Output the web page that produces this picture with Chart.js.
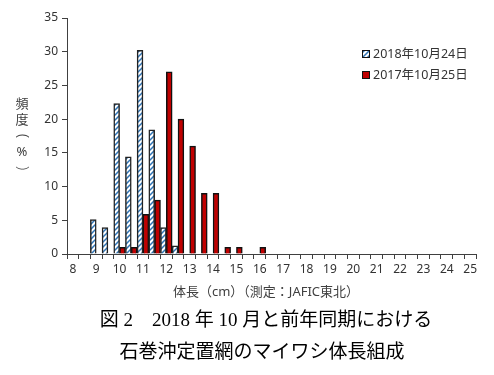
<!DOCTYPE html>
<html>
<head>
<meta charset="utf-8">
<script src="https://cdn.jsdelivr.net/npm/chart.js@4/dist/chart.umd.min.js"></script>
<style>
  body { margin: 0; background: #fff; }
  canvas { display: block; }
</style>
</head>
<body>
<canvas id="grafico" width="494" height="375"></canvas>
<script>
// 体長階級 (0.5cm刻み)
const categories = ['8', '8.5', '9', '9.5', '10', '10.5', '11', '11.5', '12', '12.5',
  '13', '13.5', '14', '14.5', '15', '15.5', '16', '16.5', '17', '17.5', '18', '18.5',
  '19', '19.5', '20', '20.5', '21', '21.5', '22', '22.5', '23', '23.5', '24', '24.5', '25'];

// 頻度 (%)
const freq2018 = [null, null, 5.1, 3.9, 22.3, 14.4, 30.2, 18.4, 3.9, 1.2];
const freq2017 = [null, null, null, null, 1.0, 1.0, 5.9, 8.0, 27.0, 20.0,
  16.0, 9.0, 9.0, 1.0, 1.0, null, 1.0];

const seriesLabels = ['2018年10月24日', '2017年10月25日'];
const yTitle = ['頻', '度', '(', '%', ')'];
const xTitle = '体長（cm）（測定：JAFIC東北）';
const caption = ['図 2　2018 年 10 月と前年同期における', '石巻沖定置網のマイワシ体長組成'];

const fonte = "'Noto Sans', 'Noto Sans CJK JP', sans-serif";
const canvas = document.getElementById('grafico');
const ctx = canvas.getContext('2d');

// 斜線ハッチング
function hachura() {
  const c = document.createElement('canvas');
  c.width = 5; c.height = 5;
  const g = c.getContext('2d');
  g.fillStyle = '#fff';
  g.fillRect(0, 0, 5, 5);
  g.strokeStyle = '#2f74b5';
  g.lineWidth = 1.5;
  g.beginPath();
  g.moveTo(-1, 6); g.lineTo(6, -1);
  g.moveTo(-6, 6); g.lineTo(1, -1);
  g.moveTo(4, 6); g.lineTo(11, -1);
  g.stroke();
  return ctx.createPattern(c, 'repeat');
}
const azul = hachura();

const textos = {
  id: 'textos',
  afterDraw(chart) {
    const c = chart.ctx;
    c.save();
    c.fillStyle = '#404040';
    c.textAlign = 'center';
    c.textBaseline = 'middle';
    c.font = "13px " + fonte;
    // 縦書きの軸タイトル (括弧は回転)
    yTitle.forEach((t, i) => {
      const y = 104 + i * 16;
      if (t === '(' || t === ')') {
        c.save();
        c.font = "300 15px " + fonte;
        c.translate(22, y);
        c.rotate(Math.PI / 2);
        c.fillText(t, 0, 0);
        c.restore();
      } else {
        c.fillText(t, 22, y);
      }
    });
    c.fillText(xTitle, 266, 292);

    // 凡例
    const cores = [azul, '#c00000'];
    c.textAlign = 'left';
    c.font = "12.5px " + fonte;
    seriesLabels.forEach((t, i) => {
      const y = 54 + i * 21;
      c.fillStyle = cores[i];
      c.fillRect(362, y - 4, 8, 8);
      c.strokeStyle = '#111';
      c.lineWidth = 1;
      c.strokeRect(362.5, y - 3.5, 7, 7);
      c.fillStyle = '#333';
      c.fillText(t, 373, y);
    });

    c.fillStyle = '#000';
    c.textAlign = 'center';
    c.font = "19px 'Liberation Serif', 'Noto Sans CJK JP', serif";
    c.fillText(caption[0], 266, 321);
    c.fillText(caption[1], 262, 353);
    c.restore();
  }
};

new Chart(canvas, {
  type: 'bar',
  data: {
    labels: categories,
    datasets: [
      {
        label: seriesLabels[0],
        data: freq2018,
        backgroundColor: azul,
        borderColor: '#222',
        borderWidth: 1.5,
        barPercentage: 1,
        categoryPercentage: 1
      },
      {
        label: seriesLabels[1],
        data: freq2017,
        backgroundColor: '#c00000',
        borderColor: '#111',
        borderWidth: 1.5,
        barPercentage: 1,
        categoryPercentage: 1
      }
    ]
  },
  options: {
    responsive: false,
    animation: false,
    layout: { padding: { left: 0, right: 18, top: 18, bottom: 0 } },
    plugins: { legend: { display: false }, tooltip: { enabled: false } },
    scales: {
      x: {
        offset: true,
        grid: { offset: true, drawOnChartArea: false, tickLength: 5, color: '#404040' },
        border: { color: '#404040' },
        ticks: {
          autoSkip: false,
          maxRotation: 0,
          padding: 3,
          color: '#333',
          font: { family: fonte, size: 12 },
          callback: (v, i) => categories[i].includes('.') ? '' : categories[i]
        },
        afterFit: (s) => { s.height = 121; }
      },
      y: {
        min: 0,
        max: 35,
        ticks: { stepSize: 5, padding: 4, color: '#333', font: { family: fonte, size: 12 } },
        grid: { drawOnChartArea: false, tickLength: 5, color: '#404040' },
        border: { color: '#404040' },
        afterFit: (s) => { s.width = 67; }
      }
    }
  },
  plugins: [textos]
});
</script>
</body>
</html>
